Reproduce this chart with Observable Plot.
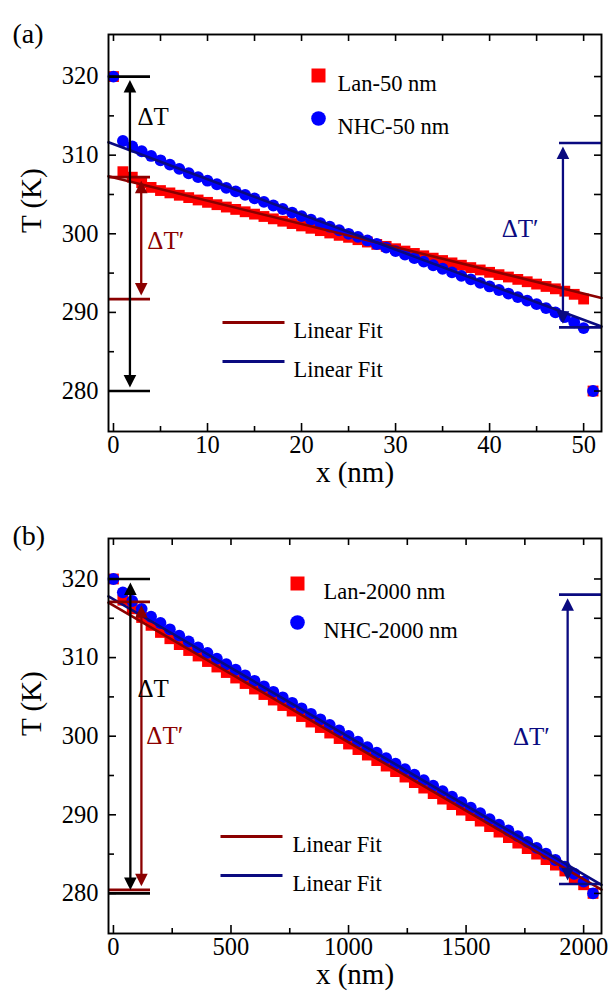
<!DOCTYPE html>
<html>
<head>
<meta charset="utf-8">
<script src="https://cdn.jsdelivr.net/npm/d3@7"></script>
<script src="https://cdn.jsdelivr.net/npm/@observablehq/plot@0.6"></script>
<style>
  html, body { margin: 0; background: #fff; overflow: hidden; }
  #chart { width: 608px; }
  #chart svg { display: block; }
</style>
</head>
<body>
<div id="chart"></div>
<script>
// ---------- temperature profiles, 50 nm films ----------
const x50 = [0, 1, 2, 3, 4, 5, 6, 7, 8, 9, 10, 11, 12, 13, 14, 15, 16, 17, 18, 19, 20,
  21, 22, 23, 24, 25, 26, 27, 28, 29, 30, 31, 32, 33, 34, 35, 36, 37, 38, 39, 40,
  41, 42, 43, 44, 45, 46, 47, 48, 49, 50, 51];
const tLan50 = [320, 307.9, 307.2, 306.5, 305.9, 305.5, 305.2, 304.9, 304.6, 304.3, 304.0,
  303.7, 303.4, 303.1, 302.8, 302.5, 302.2, 301.9, 301.6, 301.3, 301.0,
  300.7, 300.4, 300.1, 299.8, 299.55, 299.25, 298.95, 298.65, 298.4, 298.1,
  297.8, 297.5, 297.2, 296.9, 296.6, 296.3, 296.0, 295.7, 295.4, 295.1,
  294.8, 294.5, 294.2, 293.9, 293.6, 293.3, 293.0, 292.7, 292.3, 291.7, 280];
const tNhc50 = [320, 311.8, 311.1, 310.5, 309.9, 309.35, 308.8, 308.25, 307.7, 307.2, 306.75,
  306.3, 305.85, 305.4, 304.95, 304.5, 304.05, 303.6, 303.15, 302.7, 302.25,
  301.8, 301.35, 300.9, 300.45, 300.0, 299.6, 299.15, 298.7, 298.25, 297.8,
  297.35, 296.9, 296.45, 296.0, 295.55, 295.1, 294.65, 294.2, 293.75, 293.3,
  292.85, 292.4, 291.95, 291.5, 291.05, 290.55, 290.0, 289.4, 288.75, 288.0, 280];
// linear fits [intercept, slope]
const fitLan50 = [307.15, -0.295];
const fitNhc50 = [311.4, -0.447];
// temperature-drop markers (K)
const dT50 = [320, 280];
const dTLan50 = [307.2, 291.7];
const dTNhc50 = [311.55, 288.1];

// ---------- temperature profiles, 2000 nm films ----------
const x2000 = [0, 40, 80, 120, 160, 200, 240, 280, 320, 360, 400, 440, 480, 520, 560, 600,
  640, 680, 720, 760, 800, 840, 880, 920, 960, 1000, 1040, 1080, 1120, 1160, 1200,
  1240, 1280, 1320, 1360, 1400, 1440, 1480, 1520, 1560, 1600, 1640, 1680, 1720,
  1760, 1800, 1840, 1880, 1920, 1960, 2000, 2040];
const tLan2000 = [320, 317.3, 316.2, 315.1, 314.1, 313.2, 312.4, 311.65, 310.9, 310.2, 309.5,
  308.8, 308.1, 307.4, 306.7, 306.0, 305.3, 304.6, 303.9, 303.2, 302.5,
  301.8, 301.1, 300.4, 299.7, 299.0, 298.3, 297.6, 296.9, 296.2, 295.5,
  294.8, 294.1, 293.4, 292.7, 292.0, 291.3, 290.6, 289.9, 289.2, 288.5,
  287.8, 287.1, 286.4, 285.7, 285.0, 284.3, 283.6, 282.85, 282.0, 281.1, 280];
const tNhc2000 = [320, 318.3, 317.2, 316.2, 315.2, 314.4, 313.6, 312.8, 312.05, 311.3, 310.6,
  309.85, 309.15, 308.45, 307.75, 307.05, 306.35, 305.65, 304.95, 304.25, 303.55,
  302.85, 302.15, 301.45, 300.75, 300.05, 299.3, 298.6, 297.9, 297.2, 296.5,
  295.8, 295.1, 294.4, 293.7, 293.0, 292.3, 291.6, 290.9, 290.2, 289.45,
  288.75, 288.0, 287.3, 286.55, 285.8, 285.05, 284.25, 283.4, 282.5, 281.5, 280];
const fitLan2000 = [316.63, -0.01741];
const fitNhc2000 = [317.43, -0.0175];
const dT2000 = [320, 280];
const dTLan2000 = [317.1, 280.46];
const dTNhc2000 = [318.0, 281.2];

// ---------- axis ticks ----------
const ticksX50 = [0, 10, 20, 30, 40, 50];
const minorX50 = [5, 15, 25, 35, 45];
const ticksX2000 = [0, 500, 1000, 1500, 2000];
const minorX2000 = [250, 750, 1250, 1750];
const ticksT = [280, 290, 300, 310, 320];
const minorT = [285, 295, 305, 315];

const FONT = "'Liberation Serif', 'Times New Roman', Times, serif";
const RED = "#ff0000", BLUE = "#0000ff", WINE = "#8b0000", NAVY = "#0a0a80";

// filled arrowheads drawn with their tip at the anchor point
const headUp = {draw(ctx) { ctx.moveTo(0, 0); ctx.lineTo(-6.3, 12.5); ctx.lineTo(6.3, 12.5); ctx.closePath(); }};
const headDown = {draw(ctx) { ctx.moveTo(0, 0); ctx.lineTo(-6.3, -12.5); ctx.lineTo(6.3, -12.5); ctx.closePath(); }};
// short horizontal stroke for the fit entries of the legend
const legendStroke = {draw(ctx) { ctx.moveTo(-31, 0); ctx.lineTo(31, 0); }};

function doubleArrow(x, [top, bottom], color) {
  const d = [{x, top, bottom}];
  return [
    Plot.ruleX(d, {x: "x", y1: "top", y2: "bottom", stroke: color, strokeWidth: 2.3, insetTop: 8, insetBottom: 8}),
    Plot.dot(d, {x: "x", y: "top", symbol: headUp, fill: color, stroke: "none", dy: 3.5}),
    Plot.dot(d, {x: "x", y: "bottom", symbol: headDown, fill: color, stroke: "none", dy: -3.5})
  ];
}

function panel(c) {
  const W = 608, ml = 108, mr = 7;
  const iw = W - ml - mr, ih = c.height - c.mt - c.mb;
  const lan = c.x.map((x, i) => ({x, t: c.lan[i]}));
  const nhc = c.x.map((x, i) => ({x, t: c.nhc[i]}));
  const fitLine = ([a, b]) => c.xDomain.map((x) => ({x, t: a + b * x}));
  const barsLeft = (vals, color) => Plot.ruleY(vals, {stroke: color, strokeWidth: 2.7, insetRight: iw - 42});
  const barsRight = (vals, color) => Plot.ruleY(vals, {stroke: color, strokeWidth: 2.7, insetLeft: iw - 42});
  const lg = c.legend;
  return Plot.plot({
    width: W, height: c.height,
    marginLeft: ml, marginRight: mr, marginTop: c.mt, marginBottom: c.mb,
    style: {fontFamily: FONT, background: "white", color: "black", overflow: "visible"},
    x: {domain: c.xDomain, axis: null},
    y: {domain: c.yDomain, axis: null},
    marks: [
      // data
      Plot.dot(lan, {x: "x", y: "t", symbol: "square", r: 6.1, fill: RED, stroke: "none"}),
      Plot.dot(nhc, {x: "x", y: "t", symbol: "circle", r: 5.9, fill: BLUE, stroke: "none"}),
      Plot.line(fitLine(c.fitLan), {x: "x", y: "t", stroke: WINE, strokeWidth: 2.6}),
      Plot.line(fitLine(c.fitNhc), {x: "x", y: "t", stroke: NAVY, strokeWidth: 2.6}),

      // temperature-drop annotations
      barsLeft(c.dT, "black"),
      barsLeft(c.dTLan, WINE),
      barsRight(c.dTNhc, NAVY),
      ...doubleArrow(c.arrowX[0], c.dT, "black"),
      ...doubleArrow(c.arrowX[1], c.dTLan, WINE),
      ...doubleArrow(c.arrowX[2], c.dTNhc, NAVY),
      Plot.text([c.labelDT], {x: "x", y: "t", text: () => "ΔT", fill: "black", fontSize: 25, textAnchor: "start"}),
      Plot.text([c.labelLan], {x: "x", y: "t", text: () => "ΔT′", fill: WINE, fontSize: 25, textAnchor: "start"}),
      Plot.text([c.labelNhc], {x: "x", y: "t", text: () => "ΔT′", fill: NAVY, fontSize: 25, textAnchor: "end"}),

      // legend
      Plot.dot([0], {frameAnchor: "top-left", dx: lg.sym, dy: lg.row1, symbol: "square", r: 7.9, fill: RED, stroke: "none"}),
      Plot.dot([0], {frameAnchor: "top-left", dx: lg.sym, dy: lg.row2, symbol: "circle", r: 7.3, fill: BLUE, stroke: "none"}),
      Plot.text([c.names[0]], {text: (d) => d, frameAnchor: "top-left", dx: lg.txt, dy: lg.row1, textAnchor: "start", fontSize: 22.5}),
      Plot.text([c.names[1]], {text: (d) => d, frameAnchor: "top-left", dx: lg.txt, dy: lg.row2, textAnchor: "start", fontSize: 22.5}),
      Plot.dot([0], {frameAnchor: "top-left", dx: lg.lineX, dy: lg.row3, symbol: legendStroke, fill: "none", stroke: WINE, strokeWidth: 2.8}),
      Plot.dot([0], {frameAnchor: "top-left", dx: lg.lineX, dy: lg.row4, symbol: legendStroke, fill: "none", stroke: NAVY, strokeWidth: 2.8}),
      Plot.text(["Linear Fit"], {text: (d) => d, frameAnchor: "top-left", dx: lg.fitTxt, dy: lg.row3, textAnchor: "start", fontSize: 22.5}),
      Plot.text(["Linear Fit"], {text: (d) => d, frameAnchor: "top-left", dx: lg.fitTxt, dy: lg.row4, textAnchor: "start", fontSize: 22.5}),

      // inward ticks on all four sides
      Plot.ruleX(c.ticksX, {stroke: "black", strokeWidth: 1.6, insetTop: ih - 8}),
      Plot.ruleX(c.minorX, {stroke: "black", strokeWidth: 1.6, insetTop: ih - 5}),
      Plot.ruleX([...c.ticksX, ...c.minorX], {stroke: "black", strokeWidth: 1.6, insetBottom: ih - 7}),
      Plot.ruleY(ticksT, {stroke: "black", strokeWidth: 1.6, insetRight: iw - 8}),
      Plot.ruleY(minorT, {stroke: "black", strokeWidth: 1.6, insetRight: iw - 6}),
      Plot.ruleY([...ticksT, ...minorT], {stroke: "black", strokeWidth: 1.6, insetLeft: iw - 7}),
      Plot.frame({stroke: "black", strokeWidth: 1.9}),

      // tick labels and titles
      Plot.text(c.ticksX, {x: (d) => d, text: (d) => String(d), frameAnchor: "bottom", dy: 21, fontSize: 24.5}),
      Plot.text(ticksT, {y: (d) => d, text: (d) => String(d), frameAnchor: "left", dx: -10, textAnchor: "end", fontSize: 24.5}),
      Plot.text(["x (nm)"], {text: (d) => d, frameAnchor: "bottom", dy: 50, fontSize: 29}),
      Plot.text(["T (K)"], {text: (d) => d, frameAnchor: "left", dx: -77, rotate: -90, fontSize: 29}),
      Plot.text([c.tag], {text: (d) => d, frameAnchor: "top-left", dx: -96, dy: c.tagDy, textAnchor: "start", fontSize: 28})
    ]
  });
}

const chart = document.getElementById("chart");

chart.append(panel({
  height: 500, mt: 34, mb: 69,
  xDomain: [-0.53, 51.9], yDomain: [274.85, 325.35],
  x: x50, lan: tLan50, nhc: tNhc50,
  fitLan: fitLan50, fitNhc: fitNhc50,
  dT: dT50, dTLan: dTLan50, dTNhc: dTNhc50,
  arrowX: [1.75, 2.95, 47.8],
  labelDT: {x: 2.55, t: 314.8},
  labelLan: {x: 3.6, t: 299.1},
  labelNhc: {x: 45.2, t: 300.6},
  ticksX: ticksX50, minorX: minorX50,
  names: ["Lan-50 nm", "NHC-50 nm"],
  legend: {sym: 210, txt: 229, row1: 41, row2: 84, lineX: 145, fitTxt: 185, row3: 288, row4: 327},
  tag: "(a)", tagDy: -11
}));

chart.append(panel({
  height: 499, mt: 38, mb: 66,
  xDomain: [-21, 2076], yDomain: [274.9, 325.15],
  x: x2000, lan: tLan2000, nhc: tNhc2000,
  fitLan: fitLan2000, fitNhc: fitNhc2000,
  dT: dT2000, dTLan: dTLan2000, dTNhc: dTNhc2000,
  arrowX: [72, 119, 1932],
  labelDT: {x: 102, t: 306.0},
  labelLan: {x: 140, t: 300.05},
  labelNhc: {x: 1856, t: 299.85},
  ticksX: ticksX2000, minorX: minorX2000,
  names: ["Lan-2000 nm", "NHC-2000 nm"],
  legend: {sym: 189, txt: 215, row1: 45, row2: 84, lineX: 143, fitTxt: 184, row3: 298, row4: 337},
  tag: "(b)", tagDy: -13
}));
</script>
</body>
</html>
